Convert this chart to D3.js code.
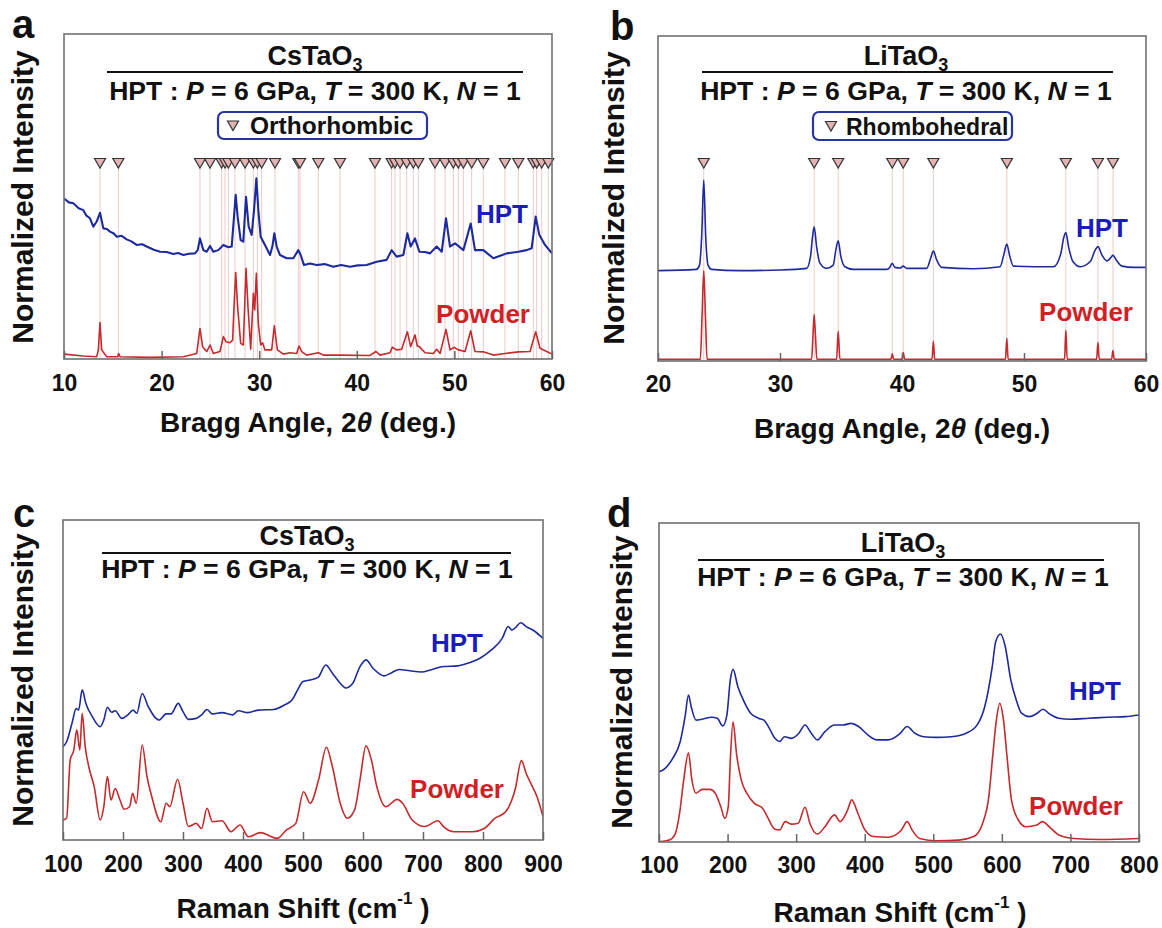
<!DOCTYPE html>
<html>
<head>
<meta charset="utf-8">
<script src="https://cdn.jsdelivr.net/npm/d3@7"></script>
<style>
  body { margin: 0; background: #fff; }
  svg text { font-family: "Liberation Sans", Arial, sans-serif; font-weight: bold; fill: #111; }
</style>
</head>
<body>
<svg id="fig" width="1162" height="928"></svg>
<script>
// ---- data (x, normalized intensity 0-100 of the panel height) ----

// (a) CsTaO3 XRD
const peaksA = [13.69, 15.57, 23.93, 24.96, 26.15, 26.5, 26.84, 27.52, 28.55, 29.4, 29.81, 30.25,
  31.62, 34.01, 34.18, 36.06, 38.28, 41.86, 43.57, 43.91, 44.43, 45.11, 45.79, 46.3, 48.01,
  49.04, 49.89, 50.4, 50.92, 51.77, 52.96, 55.18, 56.55, 58.09, 58.43, 58.94, 59.62]
const hptA = [[10, 49.4], [10.5, 48.2], [10.96, 47.9], [11.5, 46.4], [11.98, 45.8], [12.3, 44.1], [12.66, 43.3],
  [13.0, 40.7], [13.35, 42.3], [13.69, 45.0], [14.03, 40.2], [14.4, 40.0], [14.71, 39.2], [15.1, 38.6],
  [15.4, 37.6], [15.9, 37.9], [16.42, 36.8], [16.9, 36.2], [17.45, 35.1], [18.0, 35.3], [18.47, 34.6],
  [19.2, 33.6], [19.84, 33.0], [20.5, 32.9], [21.2, 32.3], [21.7, 32.6], [22.23, 32.0], [22.8, 32.4],
  [23.42, 32.5], [23.7, 33.5], [23.93, 37.1], [24.28, 33.5], [24.62, 33.0], [24.96, 34.8], [25.3, 33.0],
  [25.81, 33.5], [26.33, 35.1], [26.84, 34.4], [27.18, 34.6], [27.42, 43.8], [27.59, 50.5], [27.79, 43.8],
  [28.1, 36.6], [28.37, 36.1], [28.65, 49.9], [28.92, 40.7], [29.23, 38.2], [29.47, 45.8], [29.71, 55.6],
  [29.91, 45.8], [30.15, 37.6], [30.59, 35.1], [31.11, 32.0], [31.35, 34.6], [31.55, 38.7], [31.79, 34.6],
  [32.13, 32.0], [32.81, 31.0], [33.5, 31.0], [34.01, 33.5], [34.25, 32.0], [34.59, 28.9], [35.2, 29.4],
  [35.89, 28.9], [36.7, 29.2], [37.6, 28.4], [38.4, 28.9], [39.3, 28.4], [40.1, 28.8], [41.01, 28.9],
  [42.04, 29.9], [43.06, 30.5], [43.57, 33.5], [44.08, 31.5], [44.77, 32.0], [45.18, 38.7], [45.52, 34.6],
  [45.96, 37.1], [46.41, 33.0], [47.0, 32.9], [47.5, 32.5], [48.18, 34.6], [48.7, 33.0], [49.14, 43.3],
  [49.55, 34.6], [50.06, 35.6], [50.92, 33.5], [51.67, 41.7], [52.11, 33.5], [52.96, 33.5], [53.99, 31.0],
  [54.7, 31.8], [55.36, 32.5], [56.55, 33.0], [57.4, 33.5], [57.92, 34.1], [58.33, 43.8], [58.7, 38.2],
  [59.28, 35.1], [60, 32.5]]
const powderA = [[10, 1.5], [11.98, 0.9], [13.35, 0.7], [13.52, 2.8], [13.69, 11.2], [13.86, 2.8], [14.37, 0.7],
  [15.5, 0.7], [15.6, 1.7], [15.74, 0.7], [18.8, 0.5], [22.23, 0.7], [23.6, 1.7], [23.93, 9.4], [24.2, 3.8],
  [24.62, 2.3], [24.96, 4.3], [25.3, 1.7], [25.98, 2.3], [26.33, 6.9], [26.6, 5.3], [27.0, 5.0], [27.28, 5.8],
  [27.42, 16.1], [27.59, 26.6], [27.79, 16.1], [28.1, 4.8], [28.37, 4.3], [28.51, 16.1], [28.65, 27.9],
  [28.85, 16.1], [29.13, 3.0], [29.4, 20.2], [29.54, 15.1], [29.71, 26.4], [29.91, 11.0], [30.15, 4.3],
  [30.35, 5.0], [30.59, 2.8], [31.28, 2.8], [31.55, 10.2], [31.86, 2.8], [32.47, 1.5], [33.16, 1.9],
  [33.84, 1.7], [34.08, 4.0], [34.35, 2.3], [34.86, 1.2], [36.06, 1.9], [36.57, 1.2], [38.28, 1.2],
  [41.35, 1.1], [41.97, 2.3], [42.38, 1.2], [43.4, 1.9], [43.64, 3.6], [44.08, 2.8], [44.6, 3.0],
  [45.18, 8.4], [45.52, 3.8], [45.96, 7.4], [46.2, 4.0], [46.41, 3.8], [46.99, 1.9], [47.84, 1.7],
  [48.18, 3.0], [48.53, 1.7], [49.14, 9.1], [49.55, 2.8], [49.96, 3.6], [50.4, 2.8], [51.09, 2.3],
  [51.67, 8.7], [52.11, 2.3], [52.96, 2.2], [53.99, 1.2], [55.18, 1.7], [56.55, 2.2], [57.75, 2.3],
  [58.33, 8.4], [58.77, 3.3], [59.45, 2.3], [60, 1.5]]

// (b) LiTaO3 XRD
const peaksB = [23.75, 32.8, 34.77, 39.2, 40.1, 42.57, 48.6, 53.43, 56.06, 57.3]
const hptB = [[20, 27.8], [23.15, 28.2], [23.4, 29.5], [23.58, 38.3], [23.75, 55.7], [23.91, 38.3], [24.1, 29.5],
  [24.38, 28.2], [26.7, 27.8], [30, 28.0], [32.18, 28.5], [32.5, 32.1], [32.67, 38.3], [32.8, 41.3],
  [33.0, 35.2], [33.27, 30.1], [33.82, 28.5], [34.36, 29.5], [34.58, 34.2], [34.77, 37.0], [34.99, 32.1],
  [35.32, 29.0], [36.0, 28.2], [38.74, 28.2], [39.0, 28.8], [39.2, 30.1], [39.42, 28.8], [39.84, 28.6],
  [40.1, 29.2], [40.38, 28.5], [42.02, 28.5], [42.35, 31.6], [42.57, 33.8], [42.84, 31.1], [43.25, 28.8],
  [45.85, 28.4], [48.04, 29.0], [48.37, 33.1], [48.59, 36.0], [48.81, 32.6], [49.14, 29.2], [52.42, 29.0],
  [53.02, 33.1], [53.24, 37.7], [53.43, 39.5], [53.65, 35.2], [54.01, 30.6], [54.61, 29.0], [55.43, 30.6],
  [55.84, 34.2], [56.06, 35.2], [56.39, 32.6], [56.8, 30.8], [57.07, 31.6], [57.29, 32.5], [57.56, 31.1],
  [58.03, 29.2], [58.99, 28.8], [60, 28.8]]
const powderB = [[20, 0.5], [23.47, 0.5], [23.61, 13.6], [23.75, 27.8], [23.89, 13.6], [24.02, 0.5],
  [32.59, 0.5], [32.7, 7.5], [32.8, 14.4], [32.91, 7.5], [33.02, 0.5], [34.64, 0.5], [34.77, 9.2], [34.91, 0.5],
  [39.1, 0.5], [39.2, 2.2], [39.32, 0.5], [40.0, 0.5], [40.1, 2.6], [40.22, 0.5], [42.46, 0.5], [42.57, 6.1],
  [42.68, 0.5], [48.48, 0.5], [48.59, 7.0], [48.7, 0.5], [53.32, 0.5], [53.43, 9.5], [53.54, 0.5],
  [55.95, 0.5], [56.06, 5.7], [56.17, 0.5], [57.18, 0.5], [57.29, 3.2], [57.4, 0.5], [60, 0.5]]

// (c) CsTaO3 Raman
const hptC = [[100, 29.2], [106, 30.7], [115, 36.5], [122, 41.1], [126, 40.6], [132, 46.9], [138, 42.7],
  [149, 38.5], [162, 35.4], [168, 37.5], [174, 41.5], [181, 39.9], [187, 40.4], [198, 38.0], [208, 39.1],
  [217, 40.6], [223, 39.6], [232, 45.8], [242, 41.7], [260, 37.5], [272, 39.4], [280, 39.4], [292, 42.7],
  [300, 40.1], [309, 37.7], [322, 38.0], [331, 39.1], [340, 40.8], [349, 39.4], [365, 39.8], [383, 39.1],
  [392, 40.4], [408, 39.8], [426, 40.6], [451, 40.8], [469, 42.2], [482, 43.8], [491, 46.9], [500, 49.5],
  [512, 50.0], [525, 50.8], [538, 54.7], [549, 52.1], [562, 49.0], [571, 47.5], [583, 49.0], [595, 54.2],
  [605, 56.3], [617, 53.6], [635, 51.3], [648, 52.3], [660, 53.3], [678, 52.9], [697, 52.5], [715, 53.3],
  [734, 54.2], [758, 54.4], [777, 55.4], [795, 56.8], [814, 59.4], [832, 63.0], [842, 66.7], [848, 65.6],
  [854, 66.4], [863, 67.9], [872, 66.7], [885, 65.4], [900, 63.0]]
const powderC = [[100, 6.25], [106, 6.8], [112, 25.0], [118, 28.1], [123, 34.4], [128, 28.1], [132, 39.6],
  [137, 29.2], [143, 22.9], [152, 16.7], [162, 6.25], [168, 10.4], [174, 19.8], [180, 12.5], [187, 16.1],
  [195, 12.5], [202, 9.6], [211, 10.4], [216, 14.6], [222, 11.5], [232, 29.7], [240, 19.8], [248, 13.5],
  [263, 5.7], [272, 11.5], [278, 10.4], [291, 19.0], [300, 11.5], [309, 4.2], [322, 5.2], [331, 3.6],
  [340, 9.9], [349, 5.7], [365, 6.0], [380, 2.6], [395, 4.7], [409, 1.0], [429, 2.3], [457, 0.5],
  [472, 3.1], [488, 5.2], [501, 15.1], [512, 11.5], [526, 18.8], [539, 29.0], [549, 22.9], [562, 11.5],
  [574, 6.8], [586, 9.4], [595, 18.8], [605, 29.4], [614, 25.0], [623, 16.7], [638, 10.4], [657, 12.7],
  [666, 11.5], [682, 6.25], [703, 4.2], [725, 6.0], [734, 4.2], [752, 2.6], [783, 2.6], [802, 3.6],
  [820, 6.8], [838, 8.9], [854, 16.1], [864, 24.8], [872, 20.8], [881, 17.2], [890, 13.5], [900, 7.3]]

// (d) LiTaO3 Raman
const hptD = [[100, 22.0], [109, 23.1], [120, 26.2], [131, 31.5], [138, 39.3], [143, 46.1], [147, 42.4],
  [154, 38.2], [163, 38.5], [177, 39.1], [185, 38.8], [193, 36.4], [199, 39.8], [204, 50.8], [208, 54.1],
  [215, 48.7], [223, 44.5], [234, 40.3], [245, 38.8], [253, 38.2], [261, 35.6], [269, 32.5], [276, 31.5],
  [283, 33.0], [293, 32.5], [304, 34.1], [313, 36.7], [322, 34.1], [331, 32.0], [342, 34.6], [356, 36.7],
  [369, 36.7], [380, 37.2], [391, 36.2], [405, 33.5], [418, 32.0], [434, 32.0], [451, 33.9], [462, 36.2],
  [472, 34.3], [486, 33.0], [505, 32.8], [526, 33.0], [548, 34.1], [564, 36.7], [575, 42.4], [586, 55.0],
  [591, 62.8], [598, 65.2], [605, 61.2], [613, 50.8], [621, 44.5], [629, 40.3], [640, 39.3], [651, 40.3],
  [660, 41.6], [670, 40.1], [683, 38.8], [700, 38.5], [727, 38.8], [754, 39.1], [781, 39.3], [800, 39.8]]
const powderD = [[100, 0.1], [115, 0.6], [123, 2.2], [130, 9.0], [136, 19.4], [143, 28.0], [148, 19.4],
  [154, 15.3], [163, 16.5], [174, 16.5], [182, 15.3], [190, 11.1], [196, 7.4], [201, 11.1], [204, 25.7],
  [208, 37.7], [213, 27.8], [220, 19.4], [228, 15.3], [239, 12.1], [251, 10.6], [258, 7.9], [269, 4.0],
  [276, 3.8], [284, 6.4], [293, 5.6], [303, 5.9], [313, 10.9], [320, 5.9], [331, 2.5], [342, 4.8],
  [356, 8.5], [364, 6.4], [375, 10.0], [381, 13.2], [390, 9.0], [399, 4.3], [413, 1.7], [434, 1.5],
  [453, 3.6], [462, 6.4], [469, 3.8], [480, 1.1], [505, 0.4], [537, 0.6], [559, 1.7], [572, 5.9],
  [581, 14.2], [587, 27.8], [592, 38.2], [597, 43.5], [602, 38.8], [608, 25.7], [614, 13.2], [624, 6.9],
  [635, 4.8], [651, 5.3], [659, 6.4], [670, 4.6], [683, 2.2], [705, 1.1], [743, 0.8], [800, 1.1]]

const ticksBraggA = [10, 20, 30, 40, 50, 60]
const ticksBraggB = [20, 30, 40, 50, 60]
const ticksRamanC = [100, 200, 300, 400, 500, 600, 700, 800, 900]
const ticksRamanD = [100, 200, 300, 400, 500, 600, 700, 800]

const BLUE_LINE = '#1d2a9e'
const BLUE_TEXT = '#1a1cc0'
const RED_LINE = '#c62a2d'
const RED_TEXT = '#d21f26'

const svg = d3.select('#fig')
const triPath = 'M-5.5,-4.5L5.5,-4.5L0,5Z'

function subtitle (sel) {
  const parts = [['HPT : ', 0], ['P', 1], [' = 6 GPa, ', 0], ['T', 1], [' = 300 K, ', 0], ['N', 1], [' = 1', 0]]
  parts.forEach(p => {
    const t = sel.append('tspan').text(p[0])
    if (p[1]) t.attr('font-style', 'italic')
  })
}

function drawPanel (p) {
  const g = svg.append('g').attr('id', 'panel-' + p.id)
  const x = d3.scaleLinear().domain(p.xDomain).range([p.left, p.right])
  const y = d3.scaleLinear().domain([0, 100]).range([p.bottom, p.top])

  svg.append('clipPath').attr('id', 'clip-' + p.id)
    .append('rect')
    .attr('x', p.left).attr('y', p.top)
    .attr('width', p.right - p.left).attr('height', p.bottom - p.top)

  // reference peak positions
  if (p.peaks) {
    g.append('g').selectAll('line').data(p.peaks).join('line')
      .attr('x1', d => x(d)).attr('x2', d => x(d))
      .attr('y1', p.triY + 5).attr('y2', p.bottom)
      .attr('stroke', '#eccaca').attr('stroke-width', 1)
  }

  const line = d3.line().x(d => x(d[0])).y(d => y(d[1])).curve(p.curve)
  const curves = g.append('g').attr('clip-path', 'url(#clip-' + p.id + ')')
  curves.append('path').datum(p.hpt)
    .attr('d', line).attr('fill', 'none')
    .attr('stroke', BLUE_LINE).attr('stroke-width', p.hptWidth || 1.6).attr('stroke-linejoin', 'round')
  curves.append('path').datum(p.powder)
    .attr('d', line).attr('fill', 'none')
    .attr('stroke', RED_LINE).attr('stroke-width', 1.6).attr('stroke-linejoin', 'round')

  if (p.peaks) {
    g.append('g').selectAll('path').data(p.peaks).join('path')
      .attr('d', triPath)
      .attr('transform', d => 'translate(' + x(d) + ',' + p.triY + ')')
      .attr('fill', '#e3b3b3').attr('stroke', '#333').attr('stroke-width', 1.2)
  }

  // frame + axis
  g.append('rect')
    .attr('x', p.left).attr('y', p.top)
    .attr('width', p.right - p.left).attr('height', p.bottom - p.top)
    .attr('fill', 'none').attr('stroke', '#707070').attr('stroke-width', 1.6)

  const ax = g.append('g')
    .attr('transform', 'translate(0,' + p.bottom + ')')
    .call(d3.axisBottom(x).tickValues(p.ticks).tickSizeInner(-8).tickSizeOuter(0))
  ax.select('.domain').remove()
  ax.selectAll('line').attr('stroke', '#666').attr('stroke-width', 1.5)
  ax.selectAll('text')
    .attr('dy', null)
    .attr('y', p.tickBase - p.bottom)
    .attr('font-size', 23)
    .style('font-family', '"Liberation Sans", Arial, sans-serif')
    .style('font-weight', 'bold')
    .attr('fill', '#111')

  // title block
  const tt = g.append('text').attr('x', p.titleX).attr('y', p.titleY)
    .attr('text-anchor', 'middle').attr('font-size', 27)
  tt.append('tspan').text(p.title)
  tt.append('tspan').text('3').attr('font-size', 18).attr('dy', 6)

  g.append('line')
    .attr('x1', p.lineX[0]).attr('x2', p.lineX[1])
    .attr('y1', p.lineY).attr('y2', p.lineY)
    .attr('stroke', '#111').attr('stroke-width', 2)

  const st = g.append('text').attr('x', p.titleX).attr('y', p.subY)
    .attr('text-anchor', 'middle').attr('font-size', 26.6)
  subtitle(st)

  if (p.legend) {
    const L = p.legend
    g.append('rect')
      .attr('x', L.x0).attr('y', L.y0)
      .attr('width', L.x1 - L.x0).attr('height', L.y1 - L.y0)
      .attr('rx', 6).attr('fill', '#fff')
      .attr('stroke', '#2636a0').attr('stroke-width', 2.2)
    g.append('path').attr('d', triPath)
      .attr('transform', 'translate(' + L.triX + ',' + (L.y0 + L.y1) / 2 + ')')
      .attr('fill', '#e3b3b3').attr('stroke', '#333').attr('stroke-width', 1.2)
    g.append('text').attr('x', L.textX).attr('y', L.textY)
      .attr('font-size', L.size).text(L.text)
  }

  // series labels
  g.append('text').attr('x', p.hptLab[0]).attr('y', p.hptLab[1])
    .attr('text-anchor', 'end').attr('font-size', 26).style('fill', BLUE_TEXT).text('HPT')
  g.append('text').attr('x', p.powLab[0]).attr('y', p.powLab[1])
    .attr('text-anchor', 'end').attr('font-size', 26).style('fill', RED_TEXT).text('Powder')

  // x title
  const xt = g.append('text').attr('x', p.xTitle[0]).attr('y', p.xTitle[1])
    .attr('text-anchor', 'middle').attr('font-size', 28)
  if (p.kind === 'bragg') {
    xt.append('tspan').text('Bragg Angle, 2')
    xt.append('tspan').text('\u03B8').attr('font-style', 'italic')
    xt.append('tspan').text(' (deg.)')
  } else {
    xt.append('tspan').text('Raman Shift (cm')
    xt.append('tspan').text('-1').attr('font-size', 17).attr('dy', -14)
    xt.append('tspan').text(' )').attr('dy', 14)
  }

  // y title
  g.append('text')
    .attr('transform', 'translate(' + p.yTitle[0] + ',' + p.yTitle[1] + ') rotate(-90)')
    .attr('text-anchor', 'middle').attr('font-size', 30)
    .text('Normalized Intensity')

  g.append('text').attr('x', p.letter[0]).attr('y', p.letter[1])
    .attr('font-size', 40).text(p.id)
}

drawPanel({
  id: 'a', left: 64, right: 552, top: 34, bottom: 359,
  xDomain: [10, 60], ticks: ticksBraggA, tickBase: 391,
  peaks: peaksA, triY: 163, hpt: hptA, powder: powderA, curve: d3.curveLinear, hptWidth: 2.1,
  title: 'CsTaO', titleX: 315, titleY: 65, lineY: 72, lineX: [107, 523], subY: 100,
  legend: { x0: 218, x1: 427, y0: 112, y1: 139, triX: 233, textX: 250, textY: 134, text: 'Orthorhombic', size: 24.5 },
  hptLab: [528, 223], powLab: [530, 323],
  kind: 'bragg', xTitle: [308, 432], yTitle: [33, 197], letter: [12, 38]
})

drawPanel({
  id: 'b', left: 658, right: 1146, top: 36, bottom: 361,
  xDomain: [20, 60], ticks: ticksBraggB, tickBase: 392,
  peaks: peaksB, triY: 163, hpt: hptB, powder: powderB, curve: d3.curveMonotoneX,
  title: 'LiTaO', titleX: 906, titleY: 65, lineY: 72, lineX: [702, 1113], subY: 100,
  legend: { x0: 813, x1: 1012, y0: 112, y1: 140, triX: 831, textX: 846, textY: 135, text: 'Rhombohedral', size: 23 },
  hptLab: [1128, 237], powLab: [1133, 321],
  kind: 'bragg', xTitle: [902, 438], yTitle: [624, 198], letter: [610, 40]
})

drawPanel({
  id: 'c', left: 63, right: 543, top: 520, bottom: 840,
  xDomain: [100, 900], ticks: ticksRamanC, tickBase: 872,
  hpt: hptC, powder: powderC, curve: d3.curveMonotoneX,
  title: 'CsTaO', titleX: 307, titleY: 545, lineY: 553, lineX: [102, 511], subY: 578,
  hptLab: [483, 652], powLab: [504, 798],
  kind: 'raman', xTitle: [303, 918], yTitle: [33, 680], letter: [13, 527]
})

drawPanel({
  id: 'd', left: 659, right: 1139, top: 523, bottom: 842,
  xDomain: [100, 800], ticks: ticksRamanD, tickBase: 873,
  hpt: hptD, powder: powderD, curve: d3.curveMonotoneX,
  title: 'LiTaO', titleX: 903, titleY: 552, lineY: 560, lineX: [698, 1104], subY: 586,
  hptLab: [1121, 700], powLab: [1123, 815],
  kind: 'raman', xTitle: [900, 922], yTitle: [632, 682], letter: [607, 527]
})
</script>
</body>
</html>
